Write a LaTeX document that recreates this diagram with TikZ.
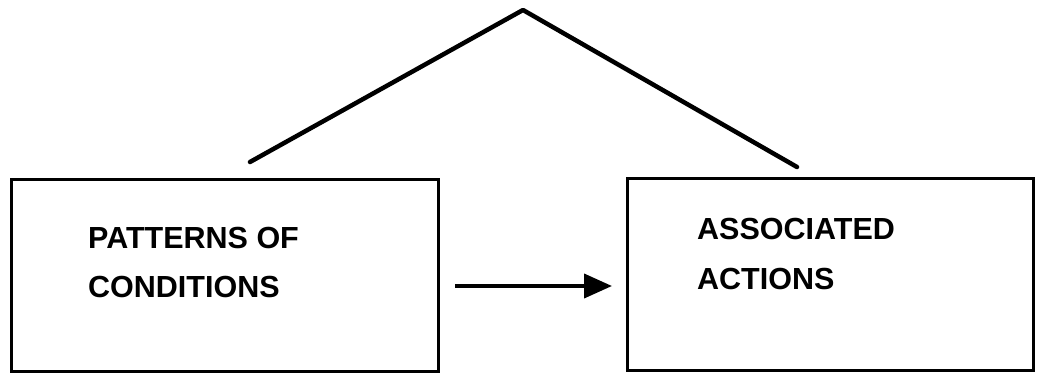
\documentclass[tikz,border=0pt]{standalone}
\usepackage{fontspec}
\setmainfont{Liberation Sans}
\usetikzlibrary{arrows.meta}
\begin{document}
\begin{tikzpicture}[x=1pt,y=1pt,
  boxline/.style={draw=black,line width=3pt},
  label/.style={anchor=base west,font=\fontsize{30.5}{32}\selectfont\bfseries,inner sep=0pt},
  roof/.style={line width=4.5pt,line cap=round,line join=round},
  flow/.style={line width=4pt,-{Triangle[length=28pt,width=24pt]},shorten >=14pt}]
\useasboundingbox (0,0) rectangle (1039,375);
\node[boxline,minimum width=427pt,minimum height=192pt,anchor=south west] (lbox) at (10,2) {};
\node[boxline,minimum width=406pt,minimum height=192pt,anchor=south west] (rbox) at (626,3) {};
\node[label] (t1) at (88,126) {PATTERNS OF};
\node[label] (t2) at (88,77) {CONDITIONS};
\node[label] (t3) at (697,135) {ASSOCIATED};
\node[label] (t4) at (697,85) {ACTIONS};
\coordinate (apex) at (523,365);
\coordinate (rl) at (250,213);
\coordinate (rr) at (797,208);
\draw[roof] (rl) -- (apex) -- (rr);
\coordinate (as) at (455,89);
\draw[flow] (as) -- (as -| rbox.west);
\end{tikzpicture}
\end{document}
